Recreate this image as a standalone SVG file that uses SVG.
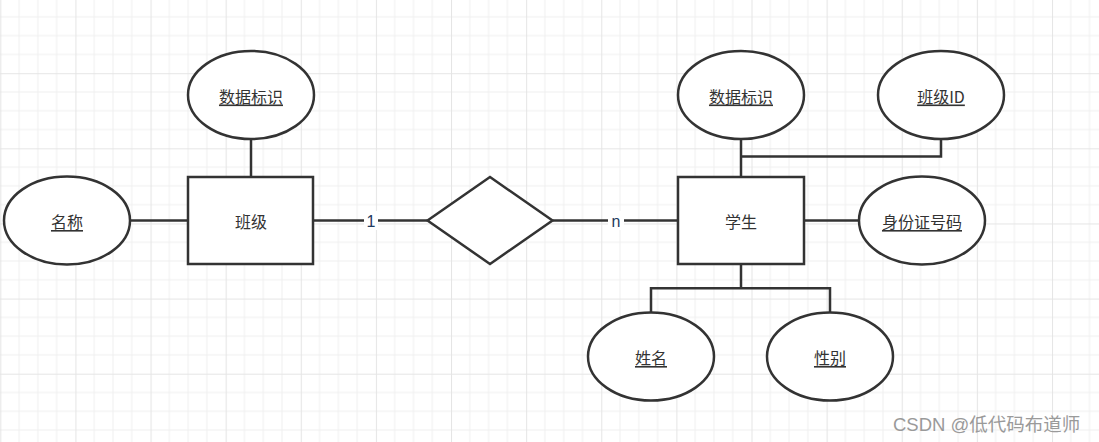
<svg xmlns="http://www.w3.org/2000/svg" width="1099" height="442" viewBox="0 0 1099 442">
<defs>
<pattern id="grid" patternUnits="userSpaceOnUse" x="0.3" y="-1.9" width="75.12" height="75.12">
<rect width="75.12" height="75.12" fill="#ffffff"/>
<g stroke="#f0f0f0" stroke-width="1">
<line x1="18.78" y1="0" x2="18.78" y2="75.12"/>
<line x1="37.56" y1="0" x2="37.56" y2="75.12"/>
<line x1="56.34" y1="0" x2="56.34" y2="75.12"/>
<line x1="0" y1="18.78" x2="75.12" y2="18.78"/>
<line x1="0" y1="37.56" x2="75.12" y2="37.56"/>
<line x1="0" y1="56.34" x2="75.12" y2="56.34"/>
</g>
<g stroke="#e5e5e5" stroke-width="1">
<line x1="0.5" y1="0" x2="0.5" y2="75.12"/>
<line x1="0" y1="0.5" x2="75.12" y2="0.5"/>
</g>
</pattern>
<style>
.shape{fill:#ffffff;stroke:#333333;stroke-width:2.5}
.conn{fill:none;stroke:#333333;stroke-width:2.5}
.lbl{font-family:"Noto Sans CJK SC","Microsoft YaHei",sans-serif;font-size:16px;fill:#333333;text-anchor:middle;dominant-baseline:central}
.attr{text-decoration:underline}
.elbl{font-family:"Liberation Sans","Noto Sans CJK SC",sans-serif;font-size:16px;fill:#1f3a60;text-anchor:middle;dominant-baseline:central}
.wm{font-family:"Liberation Sans","Noto Sans CJK SC",sans-serif;font-size:18.5px;fill:#9a9a9a}
</style>
</defs>
<rect x="0" y="0" width="1099" height="442" fill="url(#grid)"/>

<g id="connectors">
<line class="conn" x1="251" y1="139" x2="251" y2="177"/>
<line class="conn" x1="130" y1="220.5" x2="188" y2="220.5"/>
<line class="conn" x1="313" y1="220.5" x2="427.5" y2="220.5"/>
<line class="conn" x1="552.5" y1="220.5" x2="678" y2="220.5"/>
<line class="conn" x1="741" y1="139" x2="741" y2="177"/>
<polyline class="conn" points="941,139 941,156.5 741,156.5"/>
<line class="conn" x1="804" y1="220.5" x2="859" y2="220.5"/>
<polyline class="conn" points="741,264 741,288.3"/>
<polyline class="conn" points="651,313 651,288.3 830,288.3 830,313"/>
<rect x="364" y="211" width="14" height="19" fill="#ffffff"/>
<text class="elbl" x="371" y="221">1</text>
<rect x="608" y="211" width="16" height="19" fill="#ffffff"/>
<text class="elbl" x="616" y="221">n</text>
</g>

<g id="class-entity">
<rect class="shape" x="188" y="177" width="125" height="87"/>
<text class="lbl" x="251" y="220.5">班级</text>
</g>
<g id="class-id">
<ellipse class="shape" cx="251" cy="95" rx="63" ry="44"/>
<text class="lbl attr" x="251" y="95.5">数据标识</text>
</g>
<g id="class-name">
<ellipse class="shape" cx="67" cy="220.5" rx="63" ry="44"/>
<text class="lbl attr" x="67" y="221">名称</text>
</g>
<g id="relation">
<polygon class="shape" points="427.5,220.5 490,177 552.5,220.5 490,264"/>
</g>
<g id="student-entity">
<rect class="shape" x="678" y="177" width="126" height="87"/>
<text class="lbl" x="741" y="220.5">学生</text>
</g>
<g id="student-id">
<ellipse class="shape" cx="741" cy="95" rx="63" ry="44"/>
<text class="lbl attr" x="741" y="95.5">数据标识</text>
</g>
<g id="student-classid">
<ellipse class="shape" cx="941" cy="95" rx="63" ry="44"/>
<text class="lbl attr" x="941" y="95.5">班级ID</text>
</g>
<g id="student-idcard">
<ellipse class="shape" cx="922" cy="220.5" rx="63" ry="44"/>
<text class="lbl attr" x="922" y="221">身份证号码</text>
</g>
<g id="student-name">
<ellipse class="shape" cx="651" cy="356.5" rx="63" ry="44"/>
<text class="lbl attr" x="651" y="357">姓名</text>
</g>
<g id="student-gender">
<ellipse class="shape" cx="830" cy="356.5" rx="63" ry="44"/>
<text class="lbl attr" x="830" y="357">性别</text>
</g>

<text class="wm" x="893" y="431">CSDN @低代码布道师</text>
</svg>
